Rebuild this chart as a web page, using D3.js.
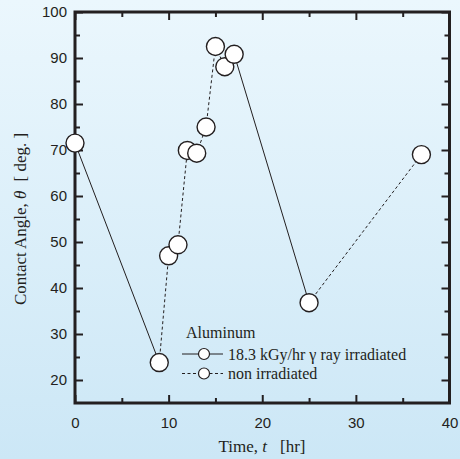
<!DOCTYPE html>
<html>
<head>
<meta charset="utf-8">
<script src="https://cdn.jsdelivr.net/npm/d3@7"></script>
<style>
  body { margin: 0; }
  svg { display: block; }
</style>
</head>
<body>
<svg id="chart"></svg>
<script>
// data
const times = [0, 9, 10, 11, 12, 13, 14, 15, 16, 17, 25, 37]
const angles = [71.5, 23.8, 47.0, 49.4, 69.9, 69.3, 75.0, 92.5, 88.1, 90.8, 36.8, 69.0]
// periods under gamma irradiation (solid line), everything else is dashed
const irradiatedPeriods = [[0, 9], [17, 25]]
const xTicks = [0, 10, 20, 30, 40]
const yTicks = [20, 30, 40, 50, 60, 70, 80, 90, 100]
const legendLabels = ["18.3 kGy/hr \u03b3 ray irradiated", "non irradiated"]

const W = 460, H = 459
const m = { left: 75, right: 10.5, top: 12, bottom: 56 }

let svg = d3.select("#chart").attr("width", W).attr("height", H)

// background gradient
let grad = svg.append("defs").append("linearGradient")
    .attr("id", "bg").attr("x1", 0).attr("y1", 0).attr("x2", 0).attr("y2", 1)
grad.append("stop").attr("offset", "0%").attr("stop-color", "#ebf7fd")
grad.append("stop").attr("offset", "100%").attr("stop-color", "#cce7f6")
svg.append("rect").attr("width", W).attr("height", H).attr("fill", "url(#bg)")

let x = d3.scaleLinear().domain([0, 40]).range([m.left, W - m.right])
let y = d3.scaleLinear().domain([15, 100]).range([H - m.bottom, m.top])

const ink = "#231f20"

// ticks (inward, on all four sides)
function tickGroup(axis, tx, ty) {
    let g = svg.append("g").attr("transform", `translate(${tx},${ty})`).call(axis)
    g.select(".domain").remove()
    g.selectAll("line").attr("stroke", ink).attr("stroke-width", 2)
    return g
}
let xMinor = d3.range(5, 40, 10)
let yMinor = d3.range(15, 100, 10).filter(v => v > 15)

let bx = tickGroup(d3.axisBottom(x).tickValues(xTicks).tickSize(-8).tickPadding(14).tickFormat(d3.format("d")), 0, y(15))
tickGroup(d3.axisBottom(x).tickValues(xMinor).tickSize(-5).tickFormat(""), 0, y(15))
tickGroup(d3.axisTop(x).tickValues(xTicks).tickSize(-8).tickFormat(""), 0, y(100))
tickGroup(d3.axisTop(x).tickValues(xMinor).tickSize(-5).tickFormat(""), 0, y(100))
let ly = tickGroup(d3.axisLeft(y).tickValues(yTicks).tickSize(-8).tickPadding(8).tickFormat(d3.format("d")), x(0), 0)
tickGroup(d3.axisLeft(y).tickValues(yMinor).tickSize(-5).tickFormat(""), x(0), 0)
tickGroup(d3.axisRight(y).tickValues(yTicks).tickSize(-8).tickFormat(""), x(40), 0)
tickGroup(d3.axisRight(y).tickValues(yMinor).tickSize(-5).tickFormat(""), x(40), 0)

for (let g of [bx, ly]) {
    g.selectAll("text")
        .attr("font-family", "'Liberation Sans', Arial, sans-serif")
        .attr("font-size", 15)
        .attr("fill", ink)
}

// frame
svg.append("rect")
    .attr("x", x(0)).attr("y", y(100))
    .attr("width", x(40) - x(0)).attr("height", y(15) - y(100))
    .attr("fill", "none").attr("stroke", ink).attr("stroke-width", 3)

// connecting segments
let isIrradiated = (a, b) => irradiatedPeriods.some(p => a >= p[0] && b <= p[1])
let segs = d3.range(times.length - 1).map(i => ({
    x1: times[i], y1: angles[i], x2: times[i + 1], y2: angles[i + 1],
    solid: isIrradiated(times[i], times[i + 1])
}))
svg.append("g").selectAll("line").data(segs).join("line")
    .attr("x1", d => x(d.x1)).attr("y1", d => y(d.y1))
    .attr("x2", d => x(d.x2)).attr("y2", d => y(d.y2))
    .attr("stroke", ink).attr("stroke-width", 1)
    .attr("stroke-dasharray", d => d.solid ? null : "3,2.5")

// markers
svg.append("g").selectAll("circle").data(times.map((t, i) => [t, angles[i]])).join("circle")
    .attr("cx", d => x(d[0])).attr("cy", d => y(d[1]))
    .attr("r", 9)
    .attr("fill", "white").attr("stroke", ink).attr("stroke-width", 1.4)

// legend
const serif = "'Liberation Serif', 'Times New Roman', serif"
let leg = svg.append("g").attr("font-family", serif).attr("font-size", 16).attr("fill", ink)
leg.append("text").attr("x", 186).attr("y", 338).text("Aluminum")
legendLabels.forEach((lab, i) => {
    let ly0 = 354 + i * 19.5
    leg.append("line").attr("x1", 182).attr("x2", 223).attr("y1", ly0).attr("y2", ly0)
        .attr("stroke", ink).attr("stroke-width", 1)
        .attr("stroke-dasharray", i === 0 ? null : "3,2.5")
    leg.append("circle").attr("cx", 204).attr("cy", ly0).attr("r", 5.5)
        .attr("fill", "white").attr("stroke", ink).attr("stroke-width", 1.2)
    leg.append("text").attr("x", 228).attr("y", ly0 + 5.5).text(lab)
})

// axis titles
let xt = svg.append("text").attr("x", 262).attr("y", 452)
    .attr("text-anchor", "middle").attr("font-family", serif).attr("font-size", 17).attr("fill", ink)
xt.append("tspan").text("Time, ")
xt.append("tspan").attr("font-style", "italic").text("t")
xt.append("tspan").attr("dx", 13).text("[hr]")

let yt = svg.append("text")
    .attr("transform", "translate(26,219) rotate(-90)")
    .attr("text-anchor", "middle").attr("font-family", serif).attr("font-size", 17).attr("fill", ink)
yt.append("tspan").text("Contact Angle, ")
yt.append("tspan").attr("font-style", "italic").text("\u03b8")
yt.append("tspan").attr("dx", 9).text("[ deg. ]")
</script>
</body>
</html>
